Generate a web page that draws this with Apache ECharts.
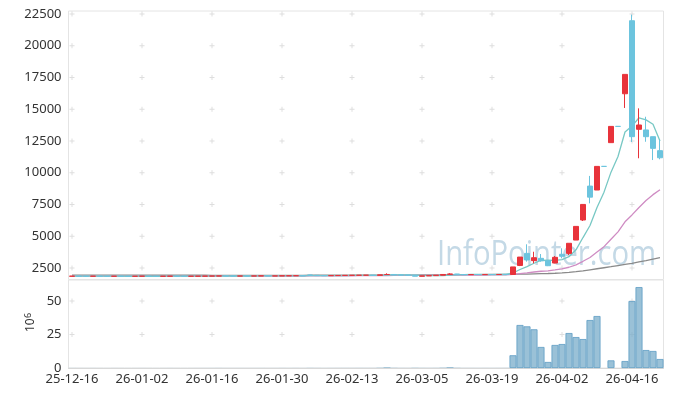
<!DOCTYPE html>
<html><head><meta charset="utf-8">
<script src="https://cdn.jsdelivr.net/npm/echarts@6/dist/echarts.min.js"></script>
<style>html,body{margin:0;padding:0;background:#fff}#c{width:673px;height:397px}</style>
</head><body><div id="c"></div>
<script>
const dates = [
'25-12-16','25-12-17','25-12-18','25-12-19','25-12-22','25-12-23','25-12-24','25-12-26','25-12-29','25-12-30',
'26-01-02','26-01-05','26-01-06','26-01-07','26-01-08','26-01-09','26-01-12','26-01-13','26-01-14','26-01-15',
'26-01-16','26-01-19','26-01-20','26-01-21','26-01-22','26-01-23','26-01-26','26-01-27','26-01-28','26-01-29',
'26-01-30','26-02-02','26-02-03','26-02-04','26-02-05','26-02-06','26-02-09','26-02-10','26-02-11','26-02-12',
'26-02-13','26-02-19','26-02-20','26-02-23','26-02-24','26-02-25','26-02-26','26-02-27','26-03-03','26-03-04',
'26-03-05','26-03-06','26-03-09','26-03-10','26-03-11','26-03-12','26-03-13','26-03-16','26-03-17','26-03-18',
'26-03-19','26-03-20','26-03-23','26-03-24','26-03-25','26-03-26','26-03-27','26-03-30','26-03-31','26-04-01',
'26-04-02','26-04-03','26-04-06','26-04-07','26-04-08','26-04-09','26-04-10','26-04-13','26-04-14','26-04-15',
'26-04-16','26-04-17','26-04-20','26-04-21','26-04-22'];

const opens = [
1850,1860,1855,1850,1858,1852,1848,1855,1850,1845,
1852,1858,1850,1845,1852,1860,1855,1848,1852,1858,
1862,1868,1875,1870,1865,1872,1868,1875,1880,1872,
1878,1885,1890,1895,1950,1925,1900,1895,1905,1910,
1920,1925,1930,1935,1920,1985,1990,1950,1940,1930,
1850,1880,1900,1930,2000,2030,1980,1975,1985,1980,
1990,1985,2000,1990,2700,3650,3080,3260,3070,2890,
3580,3650,4700,6280,8950,8640,10500,12370,13650,16220,
21970,13420,13370,12840,11740];
const closes = [
1860,1855,1850,1858,1852,1848,1855,1850,1845,1852,
1858,1850,1845,1852,1860,1855,1848,1852,1858,1862,
1868,1875,1870,1865,1872,1868,1875,1880,1872,1878,
1885,1890,1895,1888,1925,1900,1895,1905,1910,1920,
1925,1930,1935,1920,1960,1990,1950,1940,1930,1850,
1880,1900,1930,1990,2030,1980,1975,1985,1980,1990,
1985,1990,1990,2585,3360,3130,3310,3075,2680,3340,
3420,4445,5775,7505,8080,10500,10500,13650,13650,17745,
12840,13760,12840,11920,11180];
const lows = [
1845,1850,1845,1848,1850,1845,1845,1848,1840,1842,
1850,1848,1842,1845,1850,1852,1845,1845,1850,1855,
1860,1865,1868,1860,1862,1865,1865,1872,1870,1870,
1875,1880,1888,1885,1920,1895,1890,1892,1900,1905,
1915,1920,1925,1915,1918,1950,1945,1935,1925,1845,
1840,1875,1895,1925,1990,1975,1970,1970,1975,1975,
1980,1980,1985,1980,2650,3000,2870,2995,2650,2870,
3260,3520,4700,6200,7590,8640,10500,12370,13650,15100,
12420,11140,12440,11000,11060];
const highs = [
1865,1862,1858,1860,1860,1855,1858,1858,1852,1855,
1862,1860,1852,1855,1862,1862,1858,1855,1860,1865,
1872,1880,1878,1872,1875,1875,1878,1885,1882,1880,
1890,1895,1900,1898,1955,1928,1905,1908,1915,1925,
1930,1935,1940,1938,1965,2080,1992,1955,1945,1932,
1885,1905,1935,1995,2090,2035,1985,1990,1990,1995,
1995,1995,2005,2585,3360,4365,3780,3600,3100,3440,
4050,4445,5775,7505,9750,10500,10500,13650,13650,17745,
22450,15070,14410,12840,12580];

// volume, in 10^6 shares
const volumes = [
0.08,0.06,0.05,0.07,0.05,0.04,0.06,0.05,0.04,0.05,
0.06,0.05,0.04,0.05,0.07,0.05,0.04,0.05,0.06,0.07,
0.08,0.09,0.07,0.06,0.07,0.06,0.07,0.08,0.06,0.07,
0.09,0.08,0.09,0.07,0.15,0.10,0.08,0.09,0.10,0.11,
0.10,0.12,0.11,0.10,0.25,0.60,0.20,0.12,0.10,0.22,
0.15,0.12,0.14,0.30,0.70,0.20,0.10,0.10,0.09,0.10,
0.09,0.10,0.12,9.5,32.1,31.1,28.9,15.7,4.5,17.2,
17.9,26.1,23.1,21.6,35.8,38.8,0,5.7,0,5.2,
50.0,60.4,13.4,12.7,6.7];

const ma5 = [
1856,1856,1855,1856,1855,1853,1853,1853,1850,1850,
1852,1851,1850,1851,1853,1852,1852,1853,1855,1855,
1858,1863,1867,1868,1870,1870,1870,1872,1873,1875,
1878,1881,1884,1887,1897,1900,1901,1903,1905,1906,
1911,1918,1924,1926,1934,1947,1951,1952,1954,1932,
1910,1900,1898,1910,1946,1966,1981,1992,1990,1982,
1983,1986,1987,2108,2382,2611,2875,3092,3111,3107,
3165,3392,3932,4897,5845,7261,8472,10047,11276,13209,
13677,14329,14167,13821,12508];
const ma20 = [
1855,1855,1855,1855,1855,1855,1855,1854,1854,1854,
1854,1854,1853,1853,1853,1853,1853,1853,1853,1853,
1854,1855,1856,1856,1857,1858,1859,1861,1862,1863,
1865,1867,1869,1871,1874,1876,1879,1881,1884,1887,
1890,1892,1896,1898,1903,1909,1913,1916,1919,1917,
1917,1917,1919,1924,1930,1934,1938,1942,1945,1949,
1952,1955,1957,1991,2061,2118,2186,2242,2280,2354,
2431,2559,2751,3027,3329,3755,4181,4765,5348,6136,
6679,7267,7810,8276,8667];
const maLong = [
1935,1935,1934,1934,1933,1933,1932,1932,1931,1931,
1930,1930,1929,1929,1928,1928,1928,1927,1927,1927,
1926,1926,1926,1926,1925,1925,1925,1925,1925,1925,
1925,1926,1926,1926,1927,1927,1927,1928,1928,1929,
1930,1931,1932,1933,1935,1937,1939,1941,1943,1945,
1950,1955,1960,1965,1970,1974,1978,1981,1984,1987,
1990,1992,1995,2000,2010,2020,2035,2050,2065,2085,
2110,2150,2210,2280,2360,2440,2520,2600,2690,2780,
2865,2975,3085,3200,3310];

const priceTicks = [2500,5000,7500,10000,12500,15000,17500,20000,22500];
const volumeTicks = [0,25,50];
const labelEvery = 10;

const UP = '#e8333b', DOWN = '#6cc4de';
const FONT = '"Noto Sans","Open Sans",sans-serif';

const candleData = dates.map((d, i) => {
  const item = { value: [opens[i], closes[i], lows[i], highs[i]] };
  if (opens[i] === closes[i]) item.itemStyle = { color: DOWN, borderColor: DOWN };
  return item;
});
// bars too thin to show an outline are drawn without one
const volumeData = volumes.map(v => ({ value: v, itemStyle: { borderWidth: v < 1 ? 0 : 0.8 } }));

const labelIdx = dates.map((d, i) => i).filter(i => i % labelEvery === 0);
const crossPrice = [], crossVol = [];
labelIdx.forEach(i => {
  priceTicks.forEach(v => crossPrice.push([i, v]));
  volumeTicks.filter(v => v > 0).forEach(v => crossVol.push([i, v]));
});
const PLUS = 'path://M2,0h1v2h2v1h-2v2h-1v-2h-2v-1h2z';

const chart = echarts.init(document.getElementById('c'), null, { renderer: 'canvas' });
chart.setOption({
  animation: false,
  backgroundColor: '#fff',
  textStyle: { fontFamily: FONT },
  grid: [
    { left: 68.5, right: 9.5, top: 11, height: 268.5, show: true, borderColor: '#e4e4e4', borderWidth: 1 },
    { left: 68.5, right: 9.5, top: 280, height: 88, show: true, borderColor: '#e4e4e4', borderWidth: 1 }
  ],
  xAxis: [
    { type: 'category', gridIndex: 0, data: dates, boundaryGap: true,
      axisLine: { show: false }, axisTick: { show: false }, axisLabel: { show: false }, splitLine: { show: false } },
    { type: 'category', gridIndex: 1, data: dates, boundaryGap: true,
      axisLine: { show: true, lineStyle: { color: '#d8d8d8' } }, axisTick: { show: false },
      axisLabel: { interval: labelEvery - 1, color: '#333', fontSize: 13, fontFamily: FONT, margin: 5 },
      splitLine: { show: false } }
  ],
  yAxis: [
    { type: 'value', gridIndex: 0, min: 1594, max: 22736,
      axisLine: { show: false }, axisTick: { show: false }, splitLine: { show: false },
      axisLabel: { customValues: priceTicks, formatter: v => String(v), color: '#333', fontSize: 13, fontFamily: FONT, margin: 7 } },
    { type: 'value', gridIndex: 1, min: 0, max: 65.7,
      axisLine: { show: false }, axisTick: { show: false }, splitLine: { show: false },
      axisLabel: { customValues: volumeTicks, formatter: v => String(v), color: '#333', fontSize: 13, fontFamily: FONT, margin: 7 } }
  ],
  graphic: [
    { type: 'text', x: 437, y: 238, z: 0, scaleX: 0.86,
      style: { text: 'InfoPointer.com', font: '34px "Open Sans"', fill: '#c4d9e6', verticalAlign: 'top' } },
    { type: 'group', x: 37, y: 332, rotation: Math.PI / 2, children: [
      { type: 'text', x: 0, y: 0, style: { text: '10', font: '12px ' + FONT, fill: '#333', verticalAlign: 'bottom' } },
      { type: 'text', x: 14, y: -4, style: { text: '6', font: '9px ' + FONT, fill: '#333', verticalAlign: 'bottom' } }
    ]}
  ],
  series: [
    { type: 'scatter', xAxisIndex: 0, yAxisIndex: 0, data: crossPrice, symbol: PLUS, symbolSize: 5,
      itemStyle: { color: '#d6d6d6' }, silent: true, z: 1 },
    { type: 'scatter', xAxisIndex: 1, yAxisIndex: 1, data: crossVol, symbol: PLUS, symbolSize: 5,
      itemStyle: { color: '#d6d6d6' }, silent: true, z: 1 },
    { type: 'line', xAxisIndex: 0, yAxisIndex: 0, data: maLong, symbol: 'none',
      lineStyle: { color: '#8a8a8a', width: 1.3 }, z: 2 },
    { type: 'line', xAxisIndex: 0, yAxisIndex: 0, data: ma20, symbol: 'none',
      lineStyle: { color: '#cf8cc3', width: 1.3 }, z: 2 },
    { type: 'line', xAxisIndex: 0, yAxisIndex: 0, data: ma5, symbol: 'none',
      lineStyle: { color: '#78c8c4', width: 1.3 }, z: 2 },
    { type: 'candlestick', xAxisIndex: 0, yAxisIndex: 0, data: candleData, barWidth: 5,
      itemStyle: { color: UP, color0: DOWN, borderColor: UP, borderColor0: DOWN, borderWidth: 1 }, z: 3 },
    { type: 'bar', xAxisIndex: 1, yAxisIndex: 1, data: volumeData, barCategoryGap: '0%',
      itemStyle: { color: 'rgba(120,172,202,0.75)', borderColor: '#5e9dc4', borderWidth: 0.8 }, z: 2 }
  ]
});
</script></body></html>
